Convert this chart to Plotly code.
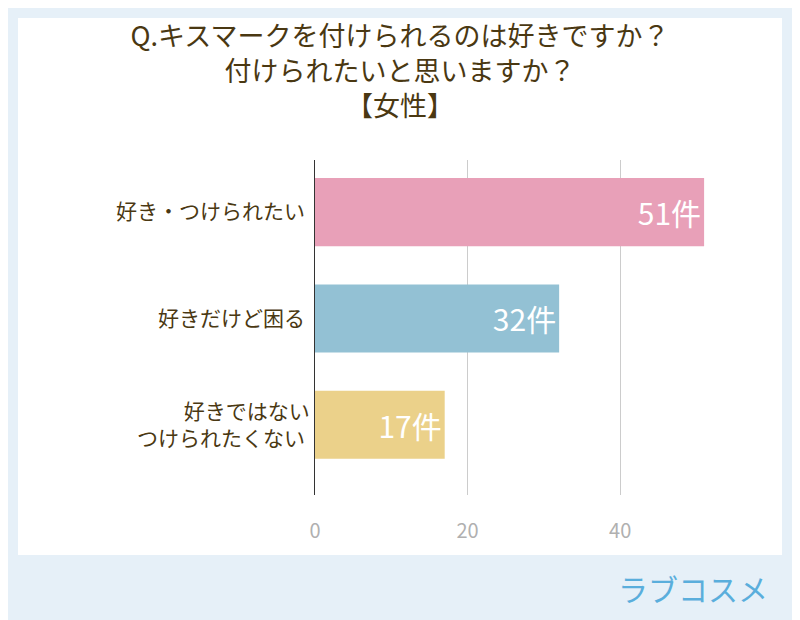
import plotly.graph_objects as go

# データ
categories = ["好き・つけられたい", "好きだけど困る", "好きではない<br>つけられたくない"]
counts = [51, 32, 17]
colors = ["#e8a0b8", "#93c1d4", "#ebd18a"]
labels = [f"{c}件" for c in counts]

font_jp = "Noto Sans CJK JP"
OFF = 8  # page offset of the figure
PW, PH, L, T = 457, 335, 315 - OFF, 160 - OFF  # plot area in px (figure coords)


def px(x):
    return (x - OFF - L) / PW


def py(y):
    return (T + PH - (y - OFF)) / PH


fig = go.Figure()

fig.add_trace(go.Bar(
    y=categories, x=counts,
    orientation="h",
    marker=dict(color=colors, line=dict(width=0)),
    text=labels,
    textposition="inside",
    insidetextanchor="end",
    textfont=dict(color="white", size=30, family=font_jp),
    width=0.64,
    hoverinfo="skip",
))

fig.update_layout(
    width=800, height=620,
    paper_bgcolor="#e6f0f8",
    plot_bgcolor="white",
    margin=dict(l=L, r=800 - L - PW, t=T, b=620 - T - PH, autoexpand=False),
    showlegend=False,
    font=dict(family=font_jp, color="#4a3812"),
    title=dict(
        text="Q.キスマークを付けられるのは好きですか？<br>付けられたいと思いますか？<br>【女性】",
        x=(400 - OFF) / 800, xanchor="center", y=1 - 38 / 620, yanchor="top",
        font=dict(size=27, color="#4a3812", family=font_jp),
    ),
    xaxis=dict(
        range=[0, 59.9], tickvals=[0, 20, 40], automargin=False,
        showgrid=True, gridcolor="#cccccc", gridwidth=1,
        zeroline=False, showline=False,
        tickfont=dict(size=20, color="#b0b0b0"),
        ticks="", ticklen=0, ticklabelstandoff=22,
    ),
    yaxis=dict(
        range=[2.66, -0.49], automargin=False,
        showline=True, linecolor="#333333", linewidth=1,
        tickfont=dict(size=21, color="#4a3812"),
        ticks="", ticksuffix=" ",
    ),
    shapes=[
        dict(type="rect", xref="paper", yref="paper", layer="below",
             x0=px(18), x1=px(782), y0=py(555), y1=py(18),
             fillcolor="white", line=dict(width=0)),
    ],
    annotations=[
        dict(text="ラブコスメ", xref="paper", yref="paper",
             x=px(770), y=py(588), xanchor="right", yanchor="middle",
             showarrow=False, font=dict(size=30, color="#5aaedc", family=font_jp)),
    ],
)

fig.write_html("out.html")
